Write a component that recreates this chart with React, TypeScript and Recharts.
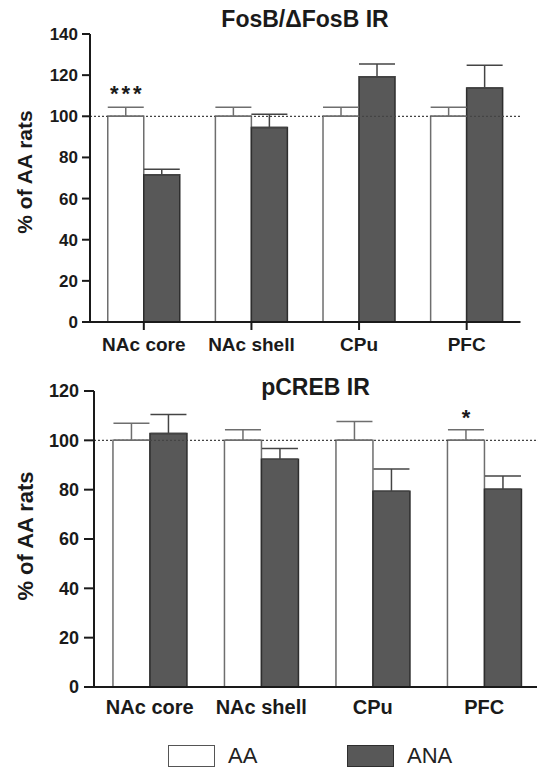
import React from 'react';
import { BarChart, Bar, XAxis, YAxis, ErrorBar, ReferenceLine, LabelList, Legend } from 'recharts';

const categories = ['NAc core', 'NAc shell', 'CPu', 'PFC'];
const seriesNames = ['AA', 'ANA'];

const fosbAA = [100, 100, 100, 100];
const fosbAAErr = [4.4, 4.4, 4.4, 4.4];
const fosbANA = [71.6, 94.5, 119.2, 113.8];
const fosbANAErr = [2.6, 6.5, 6.2, 11.0];
const fosbSig = ['***', '', '', ''];
const fosbTicks = [0, 20, 40, 60, 80, 100, 120, 140];

const pcrebAA = [100, 100, 100, 100];
const pcrebAAErr = [6.9, 4.3, 7.6, 4.3];
const pcrebANA = [102.8, 92.3, 79.4, 80.2];
const pcrebANAErr = [7.7, 4.4, 9.0, 5.3];
const pcrebSig = ['', '', '', '*'];
const pcrebTicks = [0, 20, 40, 60, 80, 100, 120];

const FONT = '"Liberation Sans", Arial, Helvetica, sans-serif';
const INK = '#1a1a1a';
const AA_FILL = '#ffffff';
const AA_STROKE = '#6e6e6e';
const ANA_FILL = '#585858';
const ANA_STROKE = '#2e2e2e';

const buildData = (aa: number[], aaErr: number[], ana: number[], anaErr: number[], sig: string[]) =>
  categories.map((name, i) => ({
    name,
    aa: aa[i],
    ana: ana[i],
    aaErr: [0, aaErr[i]],
    anaErr: [0, anaErr[i]],
    sig: sig[i],
  }));

const fosbData = buildData(fosbAA, fosbAAErr, fosbANA, fosbANAErr, fosbSig);
const pcrebData = buildData(pcrebAA, pcrebAAErr, pcrebANA, pcrebANAErr, pcrebSig);

const renderSig = (props: any) => {
  const { x, y, width, value } = props;
  if (!value) return null;
  return (
    <text
      x={Number(x) + Number(width) / 2 + (String(value).length > 1 ? 1.5 : 0)}
      y={Number(y) - 15}
      textAnchor="middle"
      fontSize={22}
      fontWeight={700}
      fill={INK}
      letterSpacing={String(value).length > 1 ? 3 : 0}
    >
      {value}
    </text>
  );
};

const legendStyles: Record<string, { fill: string; stroke: string; left: number }> = {
  AA: { fill: AA_FILL, stroke: '#555', left: 168 },
  ANA: { fill: ANA_FILL, stroke: ANA_STROKE, left: 347 },
};

const renderLegend = (props: any) => {
  const payload = props.payload || [];
  return (
    <div style={{ position: 'relative', width: 537, height: 29, fontFamily: FONT }}>
      {payload.map((entry: any) => {
        const name = String(entry.value);
        const st = legendStyles[name] || legendStyles[seriesNames[0]];
        return (
          <div
            key={name}
            style={{ position: 'absolute', left: st.left, top: 3, display: 'flex', alignItems: 'center' }}
          >
            <div
              style={{
                width: 45,
                height: 20,
                background: st.fill,
                border: `1.5px solid ${st.stroke}`,
              }}
            />
            <span style={{ marginLeft: 13, fontSize: 22, color: '#222', lineHeight: 'normal' }}>{name}</span>
          </div>
        );
      })}
    </div>
  );
};

const axisLine = { stroke: INK, strokeWidth: 2 };

export default function App() {
  return (
    <div
      style={{
        position: 'absolute',
        left: 0,
        top: 0,
        width: 537,
        height: 769,
        overflow: 'hidden',
        background: '#fff',
        fontFamily: FONT,
      }}
    >
      <div style={{ position: 'absolute', left: 0, top: 0 }}>
        <BarChart
          width={537}
          height={360}
          data={fosbData}
          margin={{ top: 34, right: 16.5, bottom: 0, left: 0 }}
          barCategoryGap="16.5%"
          barGap={0}
        >
          <XAxis
            dataKey="name"
            height={38}
            interval={0}
            axisLine={axisLine}
            tickLine={{ stroke: INK, strokeWidth: 2 }}
            tickSize={8}
            tickMargin={8}
            tick={{ fontSize: 19, fontWeight: 700, fill: INK }}
          />
          <YAxis
            width={90}
            domain={[0, 140]}
            ticks={fosbTicks}
            interval={0}
            axisLine={axisLine}
            tickLine={{ stroke: INK, strokeWidth: 2 }}
            tickSize={8}
            tickMargin={4}
            tick={{ fontSize: 17, fontWeight: 700, fill: INK }}
            label={{
              value: '% of AA rats',
              angle: -90,
              position: 'center',
              dx: -20,
              dy: -6,
              fontSize: 21,
              fontWeight: 700,
              fill: INK,
            }}
          />
          <ReferenceLine y={100} stroke="#444" strokeDasharray="2 2" strokeWidth={1.3} />
          <Bar dataKey="aa" name={seriesNames[0]} fill={AA_FILL} stroke={AA_STROKE} strokeWidth={1.5} isAnimationActive={false}>
            <ErrorBar dataKey="aaErr" width={18} stroke={AA_STROKE} strokeWidth={1.5} direction="y" />
            <LabelList dataKey="sig" content={renderSig} />
          </Bar>
          <Bar dataKey="ana" name={seriesNames[1]} fill={ANA_FILL} stroke={ANA_STROKE} strokeWidth={1.5} isAnimationActive={false}>
            <ErrorBar dataKey="anaErr" width={18} stroke="#444" strokeWidth={1.5} direction="y" />
          </Bar>
        </BarChart>
      </div>

      <div style={{ position: 'absolute', left: 0, top: 340 }}>
        <BarChart
          width={545}
          height={429}
          data={pcrebData}
          margin={{ top: 51, right: 5, bottom: 52, left: 0 }}
          barCategoryGap="17%"
          barGap={0}
        >
          <XAxis
            dataKey="name"
            height={30}
            interval={0}
            axisLine={axisLine}
            tickLine={false}
            tickSize={6}
            tickMargin={7}
            tick={{ fontSize: 20, fontWeight: 700, fill: INK }}
          />
          <YAxis
            width={94}
            domain={[0, 120]}
            ticks={pcrebTicks}
            interval={0}
            axisLine={axisLine}
            tickLine={{ stroke: INK, strokeWidth: 2 }}
            tickSize={10}
            tickMargin={5}
            tick={{ fontSize: 18, fontWeight: 700, fill: INK }}
            label={{
              value: '% of AA rats',
              angle: -90,
              position: 'center',
              dx: -22,
              dy: -3,
              fontSize: 22,
              fontWeight: 700,
              fill: INK,
            }}
          />
          <ReferenceLine y={100} stroke="#444" strokeDasharray="2 2" strokeWidth={1.3} />
          <Bar dataKey="aa" name={seriesNames[0]} fill={AA_FILL} stroke={AA_STROKE} strokeWidth={1.5} isAnimationActive={false}>
            <ErrorBar dataKey="aaErr" width={18} stroke={AA_STROKE} strokeWidth={1.5} direction="y" />
            <LabelList dataKey="sig" content={renderSig} />
          </Bar>
          <Bar dataKey="ana" name={seriesNames[1]} fill={ANA_FILL} stroke={ANA_STROKE} strokeWidth={1.5} isAnimationActive={false}>
            <ErrorBar dataKey="anaErr" width={18} stroke="#444" strokeWidth={1.5} direction="y" />
          </Bar>
          <Legend
            layout="horizontal"
            verticalAlign="middle"
            wrapperStyle={{ left: 0, top: 400, width: 537, height: 29 }}
            content={renderLegend}
          />
        </BarChart>
      </div>

      <div
        style={{
          position: 'absolute',
          left: 90,
          width: 430,
          top: 7.5,
          textAlign: 'center',
          fontSize: 23,
          lineHeight: '23px',
          fontWeight: 700,
          color: INK,
        }}
      >
        FosB/ΔFosB IR
      </div>
      <div
        style={{
          position: 'absolute',
          left: 93,
          width: 445,
          top: 375.5,
          textAlign: 'center',
          fontSize: 23,
          lineHeight: '23px',
          fontWeight: 700,
          color: INK,
        }}
      >
        pCREB IR
      </div>
    </div>
  );
}
